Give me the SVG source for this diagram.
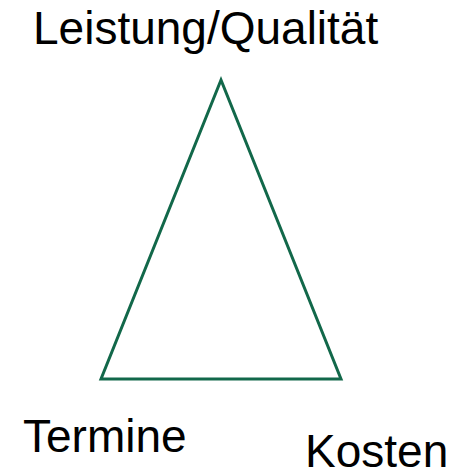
<svg xmlns="http://www.w3.org/2000/svg" width="456" height="474" viewBox="0 0 456 474">
<style>
.lbl{font-family:"Liberation Sans",Arial,sans-serif;font-size:46px;fill:#000}
.tri{fill:none;stroke:#12684a;stroke-width:3;stroke-linejoin:miter}
</style>
<rect width="456" height="474" fill="#fff"/>
<g id="triangle">
<polygon class="tri" points="221,80 101,379 341,379"/>
</g>
<g id="top"><text class="lbl" x="33" y="44">Leistung/Qualität</text></g>
<g id="left"><text class="lbl" x="23" y="452">Termine</text></g>
<g id="right"><text class="lbl" x="305" y="467">Kosten</text></g>
</svg>
